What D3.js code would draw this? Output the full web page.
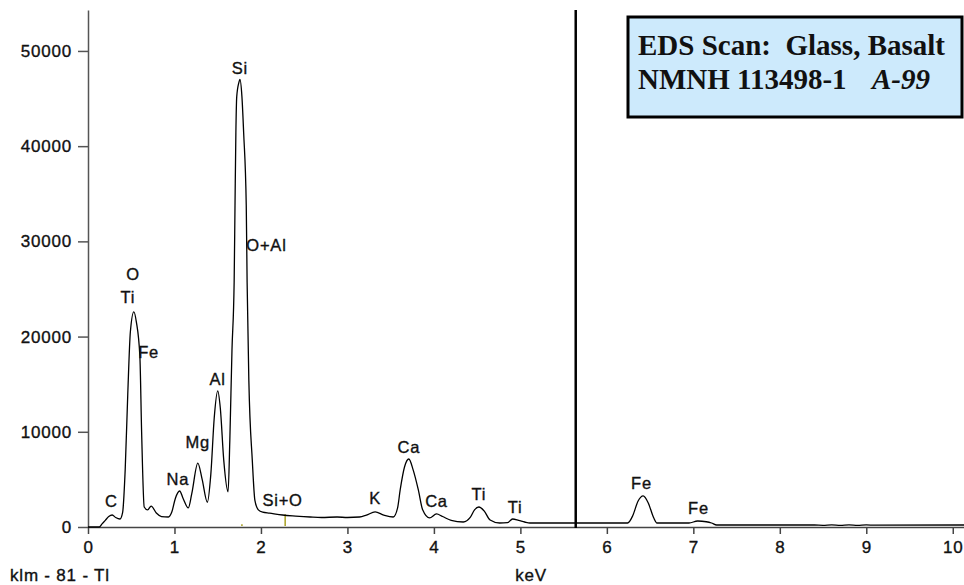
<!DOCTYPE html>
<html>
<head>
<meta charset="utf-8">
<script src="https://cdn.jsdelivr.net/npm/d3@7"></script>
<style>
  body { margin: 0; background: #fff; }
</style>
</head>
<body>
<div class="chart"></div>
<script>
// spectrum
var energy = [0.00, 0.13, 0.16, 0.20, 0.24, 0.28, 0.32, 0.37, 0.40, 0.43, 0.46, 0.49, 0.53, 0.56, 0.60, 0.62, 0.65, 0.69, 0.73, 0.79,
  0.85, 0.93, 0.97, 1.01, 1.06, 1.10, 1.16, 1.20, 1.27, 1.32, 1.38, 1.42, 1.46, 1.50, 1.53, 1.57, 1.62, 1.64, 1.665, 1.69,
  1.70, 1.71, 1.72, 1.745, 1.757, 1.78, 1.80, 1.83, 1.84, 1.86, 1.90, 1.93, 1.97, 2.02, 2.10, 2.25, 2.40, 2.57, 2.70, 2.88,
  3.00, 3.14, 3.22, 3.32, 3.42, 3.53, 3.58, 3.61, 3.66, 3.71, 3.76, 3.82, 3.87, 3.95, 4.03, 4.10, 4.20, 4.34, 4.42, 4.47,
  4.52, 4.58, 4.65, 4.76, 4.85, 4.91, 4.98, 5.05, 5.11, 5.40, 5.65, 6.24, 6.30, 6.36, 6.42, 6.48, 6.54, 6.58, 6.95, 7.05,
  7.15, 7.21, 7.27, 8.40, 8.50, 8.60, 8.70, 8.80, 8.90, 9.00, 9.10, 10.13];
var counts = [0, 0, 300, 700, 1100, 1260, 1000, 840, 1500, 6000, 14000, 20500, 22600, 21500, 17900, 10000, 2100, 1800, 2200, 1470,
  1100, 1050, 1600, 3000, 3780, 3000, 2000, 3500, 6700, 5000, 2600, 5500, 11500, 14300, 12500, 7000, 3700, 9100, 18600, 25700,
  33800, 41400, 45200, 46700, 47000, 45200, 41400, 33800, 25700, 15400, 7000, 2800, 1800, 1550, 1450, 1260, 1150, 1050, 1000, 1050,
  1000, 1050, 1250, 1580, 1250, 1050, 2000, 3890, 6300, 7140, 6000, 3890, 1800, 950, 1370, 1100, 700, 525, 1000, 1800,
  2100, 1700, 740, 420, 450, 840, 700, 525, 420, 420, 420, 420, 1200, 2700, 3260, 2500, 1000, 420, 420, 630,
  550, 420, 210, 210, 180, 230, 180, 230, 180, 220, 190, 210];

// peak labels (anchor in keV / counts)
var peakNames = ["Si", "O+Al", "O", "Ti", "Fe", "Al", "Mg", "Na", "C", "Si+O", "K", "Ca", "Ca", "Ti", "Ti", "Fe", "Fe"];
var peakKeV = [1.757, 1.83, 0.52, 0.46, 0.58, 1.50, 1.27, 1.04, 0.27, 2.25, 3.32, 3.71, 4.03, 4.52, 4.94, 6.40, 7.06];
var peakCounts = [48200, 29600, 26500, 24100, 18400, 15500, 8900, 5000, 2700, 2800, 3000, 8400, 2700, 3400, 2100, 4600, 2000];
var peakAnchor = ["middle", "start", "middle", "middle", "start", "middle", "middle", "middle", "middle", "middle", "middle", "middle", "middle", "middle", "middle", "middle", "middle"];

var markerKeV = [1.78, 2.28];
var markerCounts = [300, 1350];

var cursorKeV = 5.64;

var xTicks = [0, 1, 2, 3, 4, 5, 6, 7, 8, 9, 10];
var yTicks = [0, 10000, 20000, 30000, 40000, 50000];

var svgWidth = 964;
var svgHeight = 585;
var sans = "Liberation Sans, Arial, sans-serif";
var serif = "Liberation Serif, Times New Roman, serif";

var svg = d3.select(".chart")
  .append("svg")
  .attr("width", svgWidth)
  .attr("height", svgHeight);

var x = d3.scaleLinear().domain([0, 10.13]).range([88, 964]);
var y = d3.scaleLinear().domain([0, 54300]).range([527, 10]);

// the screenshot text is a bit heavier than plain regular
function styleText(sel) {
  sel.style("font-family", sans)
    .style("font-size", "17px")
    .style("letter-spacing", "0.8px")
    .attr("fill", "#111")
    .attr("stroke", "#111")
    .attr("stroke-width", 0.35);
}

// axes
var yAxis = svg.append("g")
  .attr("transform", "translate(88,0)")
  .call(d3.axisLeft(y).tickValues(yTicks).tickFormat(d3.format("d")).tickSize(10).tickSizeOuter(0).tickPadding(6));
yAxis.select(".domain").attr("stroke", "#555").attr("stroke-width", 1.5);
yAxis.selectAll(".tick line").attr("stroke", "#555").attr("stroke-width", 1.5);
yAxis.selectAll(".tick text").call(styleText);

var xAxis = svg.append("g")
  .attr("transform", "translate(0,527)")
  .call(d3.axisBottom(x).tickValues(xTicks).tickSize(7).tickSizeOuter(0).tickPadding(7));
xAxis.select(".domain").attr("stroke", "#444").attr("stroke-width", 1.5);
xAxis.selectAll(".tick line").attr("stroke", "#444").attr("stroke-width", 1.5);
xAxis.selectAll(".tick text").call(styleText);

// klm markers
svg.selectAll(".marker")
  .data(markerKeV)
  .enter()
  .append("line")
  .attr("class", "marker")
  .attr("x1", d => x(d))
  .attr("x2", d => x(d))
  .attr("y1", y(0) - 1)
  .attr("y2", (d, i) => y(markerCounts[i]))
  .attr("stroke", "#a8a020")
  .attr("stroke-width", 1.5);

// spectrum
var line = d3.line()
  .x((d, i) => x(energy[i]))
  .y((d, i) => y(counts[i]))
  .curve(d3.curveMonotoneX);

svg.append("path")
  .datum(counts)
  .attr("d", line)
  .attr("fill", "none")
  .attr("stroke", "#000")
  .attr("stroke-width", 1.3);

// cursor line
svg.append("line")
  .attr("x1", x(cursorKeV))
  .attr("x2", x(cursorKeV))
  .attr("y1", y(54300))
  .attr("y2", y(0) + 1)
  .attr("stroke", "#000")
  .attr("stroke-width", 2.5);

// peak labels
svg.selectAll(".peak")
  .data(peakNames)
  .enter()
  .append("text")
  .attr("class", "peak")
  .attr("x", (d, i) => x(peakKeV[i]))
  .attr("y", (d, i) => y(peakCounts[i]))
  .attr("dy", "0.35em")
  .attr("text-anchor", (d, i) => peakAnchor[i])
  .call(styleText)
  .style("font-size", "16.5px")
  .text(d => d);

// bottom captions
svg.append("text")
  .attr("x", 10)
  .attr("y", 575)
  .attr("dy", "0.35em")
  .call(styleText)
  .text("klm - 81 - Tl");

svg.append("text")
  .attr("x", 531)
  .attr("y", 575)
  .attr("dy", "0.35em")
  .attr("text-anchor", "middle")
  .call(styleText)
  .text("keV");

// title box
svg.append("rect")
  .attr("x", 628)
  .attr("y", 17)
  .attr("width", 334)
  .attr("height", 100)
  .attr("fill", "#cdeafc")
  .attr("stroke", "#000")
  .attr("stroke-width", 3);

svg.append("text")
  .attr("x", 638)
  .attr("y", 55)
  .style("font-family", serif)
  .style("font-weight", "bold")
  .style("font-size", "29px")
  .style("white-space", "pre")
  .attr("fill", "#111")
  .text("EDS Scan:  Glass, Basalt");

var t2 = svg.append("text")
  .attr("x", 638)
  .attr("y", 89)
  .style("font-family", serif)
  .style("font-weight", "bold")
  .style("font-size", "29px")
  .attr("fill", "#111");
t2.append("tspan").text("NMNH 113498-1");
t2.append("tspan").attr("x", 872).style("font-style", "italic").text("A-99");
</script>
</body>
</html>
